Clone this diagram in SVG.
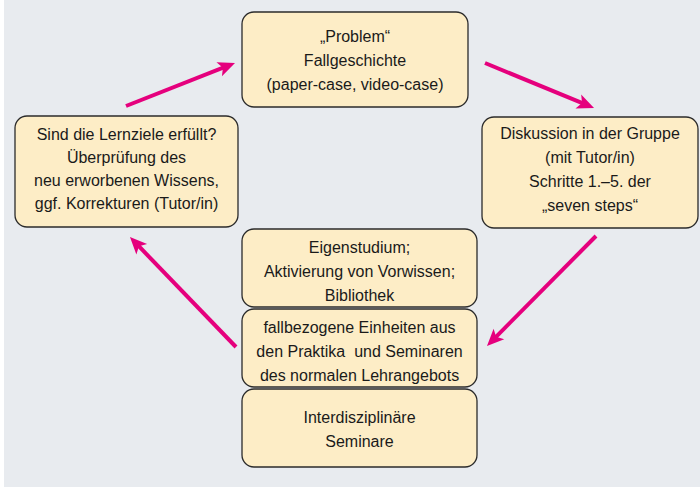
<svg xmlns="http://www.w3.org/2000/svg" width="700" height="487" viewBox="0 0 700 487">
  <style>
    .box { fill: #fdedc6; stroke: #2b2b2b; stroke-width: 1.3; }
    .lbl { font-family: "Liberation Sans", Arial, sans-serif; font-size: 16px; fill: #1a1a1a; text-anchor: middle; white-space: pre; }
    .arrow { stroke: #e5007d; stroke-width: 4; fill: none; marker-end: url(#head); }
  </style>
  <defs>
    <marker id="head" viewBox="-18 -8 20 16" refX="-10" refY="0" markerWidth="20" markerHeight="16" markerUnits="userSpaceOnUse" orient="auto">
      <path d="M0,0 L-17,-7.5 L-13,0 L-17,7.5 Z" fill="#e5007d"/>
    </marker>
  </defs>
  <rect x="4" y="0" width="696" height="487" fill="#e8ebef"/>

  <g id="problem">
    <rect class="box" x="242" y="12" width="226" height="95" rx="12"/>
    <text class="lbl" x="355" y="42">„Problem“</text>
    <text class="lbl" x="355" y="66">Fallgeschichte</text>
    <text class="lbl" x="355" y="90">(paper-case, video-case)</text>
  </g>

  <g id="diskussion">
    <rect class="box" x="482" y="117" width="216" height="111" rx="12"/>
    <text class="lbl" x="590" y="139">Diskussion in der Gruppe</text>
    <text class="lbl" x="590" y="163">(mit Tutor/in)</text>
    <text class="lbl" x="590" y="187">Schritte 1.–5. der</text>
    <text class="lbl" x="590" y="211">„seven steps“</text>
  </g>

  <g id="lernziele">
    <rect class="box" x="15" y="116" width="223" height="111" rx="12"/>
    <text class="lbl" x="126.5" y="140">Sind die Lernziele erfüllt?</text>
    <text class="lbl" x="126.5" y="163">Überprüfung des</text>
    <text class="lbl" x="126.5" y="186">neu erworbenen Wissens,</text>
    <text class="lbl" x="126.5" y="209">ggf. Korrekturen (Tutor/in)</text>
  </g>

  <g id="eigenstudium">
    <rect class="box" x="242" y="229" width="235" height="78" rx="12"/>
    <text class="lbl" x="359.5" y="253">Eigenstudium;</text>
    <text class="lbl" x="359.5" y="277">Aktivierung von Vorwissen;</text>
    <text class="lbl" x="359.5" y="301">Bibliothek</text>
  </g>

  <g id="einheiten">
    <rect class="box" x="242" y="309" width="235" height="78" rx="12"/>
    <text class="lbl" x="359.5" y="333">fallbezogene Einheiten aus</text>
    <text class="lbl" x="359.5" y="357">den Praktika  und Seminaren</text>
    <text class="lbl" x="359.5" y="381">des normalen Lehrangebots</text>
  </g>

  <g id="interdisziplinaer">
    <rect class="box" x="242" y="389" width="235" height="78" rx="12"/>
    <text class="lbl" x="359.5" y="423">Interdisziplinäre</text>
    <text class="lbl" x="359.5" y="447">Seminare</text>
  </g>

  <g id="connectors">
    <line class="arrow" x1="126" y1="106" x2="225.7" y2="66.7"/>
    <line class="arrow" x1="485" y1="63" x2="584.8" y2="104.2"/>
    <line class="arrow" x1="596" y1="236" x2="494" y2="338.9"/>
    <line class="arrow" x1="236" y1="347" x2="136.9" y2="244.2"/>
  </g>
</svg>
